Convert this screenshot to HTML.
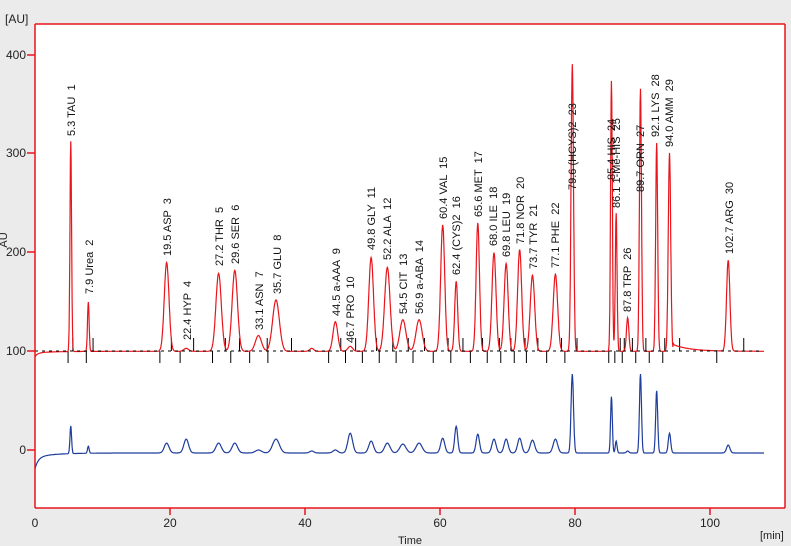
<!DOCTYPE html>
<html><head><meta charset="utf-8"><style>
html,body{margin:0;padding:0;background:#ebebeb;}
svg{display:block;font-family:"Liberation Sans",sans-serif;}
text{white-space:pre;}
</style></head><body>
<svg id="s" width="791" height="546" viewBox="0 0 791 546">
<rect x="0" y="0" width="791" height="546" fill="#ebebeb"/>
<rect x="35" y="24" width="750" height="484" fill="#fff"/>
<g id="ticks" stroke="#000" stroke-width="1"></g>
<path id="red" fill="none" stroke="#e8151c" stroke-width="1.2"/>
<path id="blue" fill="none" stroke="#1f3d9c" stroke-width="1.2"/>
<line x1="35" y1="351" x2="760" y2="351" stroke="#000" stroke-dasharray="3,4" stroke-width="1"/>
<g fill="none" stroke="#e8151c" stroke-width="1.5">
<line x1="35" y1="24" x2="785" y2="24"/><line x1="35" y1="24" x2="35" y2="508"/>
<line x1="785" y1="24" x2="785" y2="508"/><line x1="35" y1="508" x2="785" y2="508"/>
<line x1="27" y1="55" x2="35" y2="55"/><line x1="27" y1="153" x2="35" y2="153"/>
<line x1="27" y1="252" x2="35" y2="252"/><line x1="27" y1="351" x2="35" y2="351"/>
<line x1="27" y1="450" x2="35" y2="450"/>
<line x1="170" y1="508" x2="170" y2="515"/><line x1="305" y1="508" x2="305" y2="515"/>
<line x1="440" y1="508" x2="440" y2="515"/><line x1="575" y1="508" x2="575" y2="515"/>
<line x1="710" y1="508" x2="710" y2="515"/>
</g>
<g font-size="12" fill="#222" text-anchor="end">
<text x="26" y="59">400</text><text x="26" y="157">300</text><text x="26" y="256">200</text>
<text x="26" y="355">100</text><text x="26" y="454">0</text>
</g>
<text x="5" y="23" font-size="12" fill="#222">[AU]</text>
<text transform="translate(7,240) rotate(-90)" font-size="11" fill="#222" text-anchor="middle">AU</text>
<g font-size="12" fill="#222" text-anchor="middle">
<text x="35" y="527">0</text><text x="170" y="527">20</text><text x="305" y="527">40</text>
<text x="440" y="527">60</text><text x="575" y="527">80</text><text x="710" y="527">100</text>
<text x="410" y="544" font-size="11">Time</text>
</g>
<text x="760" y="539" font-size="11" fill="#222">[min]</text>
<g font-size="11" fill="#111">
<text transform="translate(75,136) rotate(-90)">5.3 TAU  1</text>
<text transform="translate(93,294) rotate(-90)">7.9 Urea  2</text>
<text transform="translate(171,256) rotate(-90)">19.5 ASP  3</text>
<text transform="translate(191,340) rotate(-90)">22.4 HYP  4</text>
<text transform="translate(223,266) rotate(-90)">27.2 THR  5</text>
<text transform="translate(239,264) rotate(-90)">29.6 SER  6</text>
<text transform="translate(263,330) rotate(-90)">33.1 ASN  7</text>
<text transform="translate(281,294) rotate(-90)">35.7 GLU  8</text>
<text transform="translate(340,316) rotate(-90)">44.5 a-AAA  9</text>
<text transform="translate(354,343) rotate(-90)">46.7 PRO  10</text>
<text transform="translate(375,250) rotate(-90)">49.8 GLY  11</text>
<text transform="translate(391,260) rotate(-90)">52.2 ALA  12</text>
<text transform="translate(407,314) rotate(-90)">54.5 CIT  13</text>
<text transform="translate(423,314) rotate(-90)">56.9 a-ABA  14</text>
<text transform="translate(447,219) rotate(-90)">60.4 VAL  15</text>
<text transform="translate(460,275) rotate(-90)">62.4 (CYS)2  16</text>
<text transform="translate(482,217) rotate(-90)">65.6 MET  17</text>
<text transform="translate(497,246) rotate(-90)">68.0 ILE  18</text>
<text transform="translate(510,257) rotate(-90)">69.8 LEU  19</text>
<text transform="translate(524,244) rotate(-90)">71.8 NOR  20</text>
<text transform="translate(537,269) rotate(-90)">73.7 TYR  21</text>
<text transform="translate(559,268) rotate(-90)">77.1 PHE  22</text>
<text transform="translate(576,190) rotate(-90)">79.6 (HCYS)2  23</text>
<text transform="translate(615,180) rotate(-90)">85.4 HIS  24</text>
<text transform="translate(620,208) rotate(-90)">86.1 1-Me-HIS  25</text>
<text transform="translate(631,312) rotate(-90)">87.8 TRP  26</text>
<text transform="translate(644,192) rotate(-90)">89.7 ORN  27</text>
<text transform="translate(659,137) rotate(-90)">92.1 LYS  28</text>
<text transform="translate(673,147) rotate(-90)">94.0 AMM  29</text>
<text transform="translate(733,254) rotate(-90)">102.7 ARG  30</text>
</g>
<script>
var X=function(t){return 35+t*6.75}, Y=function(v){return 450-v*0.987};
var P=[[5.3,213,0.12,28],[7.9,50,0.12,7],[19.5,90,0.35,10],[22.4,3,0.35,14],[27.2,79,0.4,10],[29.6,82,0.4,10],
[33.1,16,0.45,3],[35.7,52,0.5,14],[41,3,0.3,2],[44.5,30,0.35,3],[46.7,5,0.35,20],[49.8,95,0.35,12],[52.2,85,0.4,10],
[54.5,32,0.45,9],[56.9,32,0.45,10],[60.4,128,0.3,15],[62.4,71,0.22,27],[65.6,130,0.25,19],[68.0,100,0.3,14],
[69.8,89,0.3,14],[71.8,103,0.3,15],[73.7,77,0.33,13],[77.1,78,0.33,14],[79.6,291,0.18,80],[85.4,274,0.13,57],
[86.1,140,0.13,12],[87.8,34,0.18,2],[89.7,266,0.15,80],[92.1,211,0.15,63],[94.0,201,0.18,20],[102.7,92,0.25,8]];
function g(t,i){var s=0;P.forEach(function(p){var d=(t-p[0])/p[2];if(d*d<60)s+=p[i]*Math.exp(-d*d/2);});return s;}
var r="",b="";
for(var t=0;t<=108;t+=0.05){
 var br=100-4*Math.exp(-t/0.4)-1.5*Math.exp(-t/3)+(t>94.5?7*Math.exp(-(t-94.5)/2.5):0);
 var vr=br+g(t,1);
 var bb=-3-12*Math.exp(-t/0.5)-4*Math.exp(-t/3)+g(t,3);
 var x=X(t).toFixed(1);
 r+=(t==0?"M":"L")+x+","+Y(vr).toFixed(1);
 b+=(t==0?"M":"L")+x+","+Y(bb).toFixed(1);
}
document.getElementById("red").setAttribute("d",r);
document.getElementById("blue").setAttribute("d",b);
var T=[4.9,7.6,18.5,21.5,26.3,29,31.8,34.5,43.5,46,48.5,51,53.5,56,59,61.6,64.5,67,69,71,72.8,75.8,78.5,85,85.9,87,89,91,93,101];
var U=[5.6,8.6,20.2,23.5,28.2,30.3,34.4,38,45.3,47.5,50.6,53,55.3,57.7,61.2,63.4,66.3,68.8,70.5,72.6,74.5,78,80.3,86.7,87.3,88.5,90.5,93.3,95.5,105];
var G=document.getElementById("ticks"),NS="http://www.w3.org/2000/svg";
function ln(x,y1,y2){var l=document.createElementNS(NS,"line");l.setAttribute("x1",x);l.setAttribute("x2",x);l.setAttribute("y1",y1);l.setAttribute("y2",y2);G.appendChild(l);}
T.forEach(function(t){ln(X(t),351,363);});
U.forEach(function(t){ln(X(t),338,351);});
</script>
</svg>
</body></html>
